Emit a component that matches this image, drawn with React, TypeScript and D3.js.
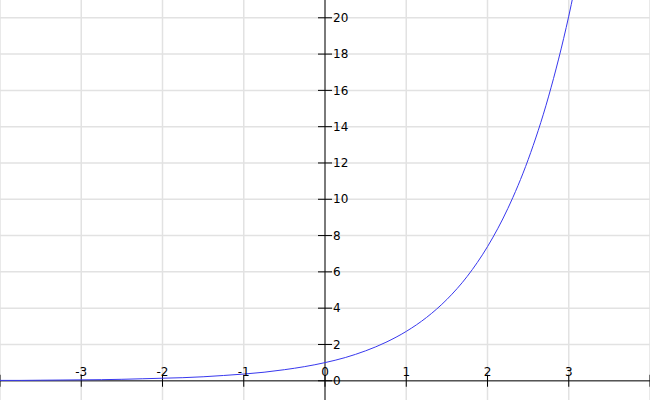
import * as d3 from "d3";

const xTicks = [-3, -2, -1, 0, 1, 2, 3];
const xGrid = [-4, -3, -2, -1, 0, 1, 2, 3, 4];
const yTicks = [0, 2, 4, 6, 8, 10, 12, 14, 16, 18, 20];

// points
const curveX = [
  -4, -3.75, -3.5, -3.25, -3, -2.75, -2.5, -2.25, -2, -1.75, -1.5, -1.25, -1,
  -0.75, -0.5, -0.25, 0, 0.25, 0.5, 0.75, 1, 1.25, 1.5, 1.75, 2, 2.25, 2.5,
  2.75, 3, 3.25,
];
const curveY = [
  0.02, 0.02, 0.03, 0.04, 0.05, 0.06, 0.08, 0.11, 0.14, 0.17, 0.22, 0.29,
  0.37, 0.47, 0.61, 0.78, 1.0, 1.28, 1.65, 2.12, 2.72, 3.49, 4.48, 5.75, 7.39,
  9.49, 12.18, 15.64, 20.09, 25.8,
];

const width = 650;
const height = 400;

export default function App() {
  const xScale = d3.scaleLinear().domain([-4, 4]).range([0, width]);
  const yScale = d3.scaleLinear().domain([-1.06, 20.98]).range([height, 0]);
  const x0 = xScale(0);
  const y0 = yScale(0);

  const points = curveX.map((x, i) => [x, curveY[i]] as [number, number]);
  const line = d3
    .line<[number, number]>()
    .x(([x]) => xScale(x))
    .y(([, y]) => yScale(y))
    .curve(d3.curveMonotoneX);

  return (
    <svg
      width={width}
      height={height}
      viewBox={`0 0 ${width} ${height}`}
      style={{ position: "absolute", left: 0, top: 0, background: "#ffffff" }}
      fontFamily="DejaVu Sans, sans-serif"
      fontSize={12}
    >
      <g stroke="#e2e2e2" strokeWidth={1.5}>
        {xGrid.map((t) => (
          <line key={`gx${t}`} x1={xScale(t)} x2={xScale(t)} y1={0} y2={height} />
        ))}
        {yTicks.map((t) => (
          <line key={`gy${t}`} x1={0} x2={width} y1={yScale(t)} y2={yScale(t)} />
        ))}
      </g>
      <g stroke="#555555" strokeWidth={1.5}>
        <line x1={0} x2={width} y1={y0} y2={y0} />
        <line x1={x0} x2={x0} y1={0} y2={height} />
      </g>
      <g stroke="#000000" strokeWidth={1}>
        {xGrid.map((t) => (
          <line key={`tx${t}`} x1={xScale(t)} x2={xScale(t)} y1={y0 - 6} y2={y0 + 6} />
        ))}
        {yTicks.map((t) => (
          <line key={`ty${t}`} x1={x0 - 7} x2={x0 + 7} y1={yScale(t)} y2={yScale(t)} />
        ))}
      </g>
      <path d={line(points) ?? ""} fill="none" stroke="#3838ee" strokeWidth={1} />
      <g fill="#000000">
        {xTicks.map((t) => (
          <text key={`lx${t}`} x={xScale(t)} y={y0 - 4.5} textAnchor="middle">
            {t}
          </text>
        ))}
        {yTicks.map((t) => (
          <text key={`ly${t}`} x={x0 + 8} y={yScale(t)} dy="0.35em">
            {t}
          </text>
        ))}
      </g>
    </svg>
  );
}
